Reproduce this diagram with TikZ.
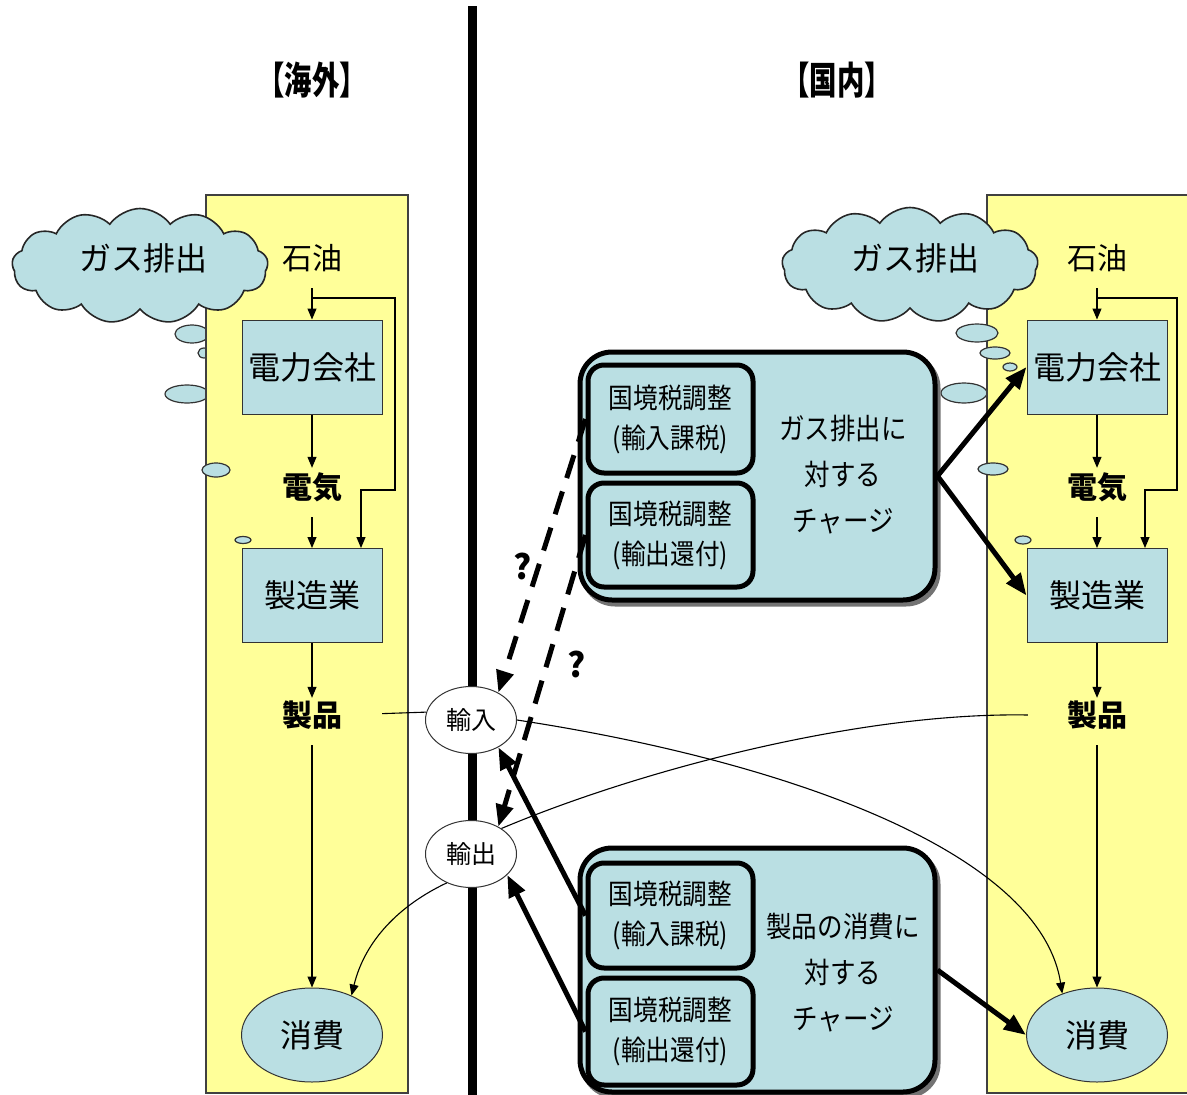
\documentclass[tikz,border=0pt]{standalone}
\usepackage{fontspec}
\setmainfont{Noto Sans CJK JP}
\newfontfamily\jp{Noto Sans CJK JP}
\newfontfamily\jpn[FakeStretch=0.88]{Noto Sans CJK JP}
\newfontfamily\jpt[FakeStretch=0.72]{Noto Sans CJK JP}
\usetikzlibrary{arrows.meta,shapes.geometric,shapes.symbols,calc}
\definecolor{pale}{RGB}{186,223,227}
\definecolor{cream}{RGB}{255,255,153}
\begin{document}
\begin{tikzpicture}[x=1pt,y=-1pt,
  lbl/.style={font=\jp\fontsize{30}{36}\selectfont, inner sep=0pt, minimum height=60pt},
  lblb/.style={lbl, font=\jp\bfseries\fontsize{30}{36}\selectfont},
  flowbox/.style={draw=black!80, line width=1pt, fill=pale, minimum width=140pt,
    minimum height=94pt, inner sep=0pt, font=\jp\fontsize{32}{38}\selectfont},
  consnode/.style={ellipse, draw=black!80, line width=1pt, fill=pale, minimum width=141pt,
    minimum height=94pt, inner sep=0pt, font=\jp\fontsize{32}{38}\selectfont},
  portnode/.style={ellipse, draw=black!80, line width=1pt, fill=white, minimum width=91pt,
    minimum height=67pt, inner sep=0pt, font=\jp\fontsize{25}{30}\selectfont},
  outerbox/.style={draw, line width=5pt, fill=pale, rounded corners=32pt,
    minimum width=355pt, inner sep=0pt},
  innerbox/.style={draw, line width=5pt, fill=pale, rounded corners=16pt,
    minimum width=165pt, inner sep=0pt, align=center,
    font=\jpn\fontsize{28}{40}\selectfont},
  chargetext/.style={align=center, inner sep=0pt, font=\jpn\fontsize{29}{46}\selectfont},
  thinarr/.style={line width=1.1pt, -{Triangle[length=11pt,width=9pt]}},
  thinline/.style={line width=1.1pt},
  bigarr/.style={line width=5pt, -{Triangle[length=22pt,width=17pt]}},
  bubble/.style={draw=black!80, line width=1.2pt, fill=pale},
  puff/.style={cloud, cloud puffs=13, cloud puff arc=110, cloud ignores aspect,
    draw=black!85, line width=1.6pt, fill=pale, minimum width=256pt,
    minimum height=115pt, inner sep=0pt},
  cloudtext/.style={font=\jp\fontsize{32}{38}\selectfont, inner sep=0pt},
  qmark/.style={font=\jp\bfseries\fontsize{34}{40}\selectfont, inner sep=0pt}
]
\useasboundingbox (0,0) rectangle (1187,1095);

% thought bubbles partly hidden by the columns
\draw[bubble] (192,334) ellipse [x radius=17pt, y radius=9pt];
\draw[bubble] (204,353) ellipse [x radius=6pt, y radius=5pt];
\draw[bubble] (187,394) ellipse [x radius=22pt, y radius=9pt];
\draw[bubble] (964,393) ellipse [x radius=23pt, y radius=10pt];

% the two columns
\draw[fill=cream, draw=black!75, line width=1.2pt] (206,195) rectangle (408,1093);
\draw[fill=cream, draw=black!75, line width=1.2pt] (987,195) rectangle (1200,1093);

% border line
\fill[black] (468,6) rectangle (477,1095);

% titles
\node[font=\jpt\bfseries\fontsize{38}{44}\selectfont, inner sep=0pt] (titleL) at (312,80) {【海外】};
\node[font=\jpt\bfseries\fontsize{38}{44}\selectfont, inner sep=0pt] (titleR) at (837,80) {【国内】};

% clouds
\node[puff] (cloudL) at (140,266) {};
\node[cloudtext] (gasL) at (143,258) {ガス排出};
\node[puff] (cloudR) at (910,265) {};
\node[cloudtext] (gasR) at (915,258) {ガス排出};

% remaining bubbles
\draw[bubble] (216,470) ellipse [x radius=14pt, y radius=7pt];
\draw[bubble] (243,540) ellipse [x radius=8pt, y radius=3.5pt];
\draw[bubble] (977,333) ellipse [x radius=21pt, y radius=9pt];
\draw[bubble] (995,353) ellipse [x radius=15pt, y radius=6pt];
\draw[bubble] (1010,367) ellipse [x radius=7pt, y radius=4pt];
\draw[bubble] (993,469) ellipse [x radius=15pt, y radius=6pt];
\draw[bubble] (1023,540) ellipse [x radius=8pt, y radius=4pt];

% overseas column
\node[lbl]  (oilL)  at (312,258) {石油};
\node[flowbox] (pwrL) at (312,367) {電力会社};
\node[lblb] (elecL) at (312,487) {電気};
\node[flowbox] (mfgL) at (312,595.5) {製造業};
\node[lblb] (prodL) at (312,715) {製品};
\node[consnode] (consL) at (312,1035) {消費};
\coordinate (brL) at (312,298);

% domestic column
\node[lbl]  (oilR)  at (1097,258) {石油};
\node[flowbox] (pwrR) at (1097,367) {電力会社};
\node[lblb] (elecR) at (1097,487) {電気};
\node[flowbox] (mfgR) at (1097,595.5) {製造業};
\node[lblb] (prodR) at (1097,715) {製品};
\node[consnode] (consR) at (1097,1035) {消費};
\coordinate (brR) at (1097,298);

% column flows
\foreach \s in {L,R}{
  \draw[thinarr] (oil\s) -- (pwr\s);
  \draw[thinarr, shorten >=-11pt] (pwr\s) -- (elec\s);
  \draw[thinarr] (elec\s) -- (mfg\s);
  \draw[thinarr, shorten >=-13pt] (mfg\s) -- (prod\s);
  \draw[thinarr] (prod\s) -- (cons\s);
}
\draw[thinarr] (brL) -| ++(83,192) -| ([xshift=49pt]mfgL.north);
\draw[thinarr] (brR) -| ++(80,192) -| ([xshift=48pt]mfgR.north);

% trade nodes
\node[portnode] (imp) at (471,720) {輸入};
\node[portnode] (exp) at (471,854) {輸出};

% trade flows
\draw[thinline, shorten <=40pt] (prodL.east) -- (imp.170);
\draw[thinarr] (imp.east) .. controls (780,760) and (1040,850) .. (consR.130);
\draw[thinline] ([xshift=-39pt]prodR.west) .. controls (860,712) and (640,770) .. (exp.40);
\draw[thinarr] (exp.-130) .. controls (400,905) and (365,940) .. (consL.45);

% charge on emissions
\node[outerbox, minimum height=248pt, fill=black!55, draw=black!55] (shA) at (760.5,480) {};
\node[outerbox, minimum height=248pt] (grpA) at (757.5,476) {};
\node[innerbox, minimum height=108pt] (a1) at (670.5,419) {国境税調整\\(輸入課税)};
\node[innerbox, minimum height=104pt] (a2) at (670.5,535) {国境税調整\\(輸出還付)};
\node[chargetext] (ta) at (843,475) {ガス排出に\\対する\\チャージ};

% charge on consumption
\node[outerbox, minimum height=244pt, fill=black!55, draw=black!55] (shB) at (760.5,974) {};
\node[outerbox, minimum height=244pt] (grpB) at (757.5,970) {};
\node[innerbox, minimum height=105pt] (b1) at (670.5,915.5) {国境税調整\\(輸入課税)};
\node[innerbox, minimum height=107pt] (b2) at (670.5,1031.5) {国境税調整\\(輸出還付)};
\node[chargetext] (tb) at (843,973) {製品の消費に\\対する\\チャージ};

% charges applied
\draw[bigarr] (grpA.east) -- (pwrR.west);
\draw[bigarr] (grpA.east) -- (mfgR.west);
\draw[bigarr] (grpB.east) -- (consR.west);
\draw[bigarr] (b1.west) -- (imp.-45);
\draw[bigarr] (b2.west) -- (exp.-30);
\draw[bigarr, dash pattern=on 24pt off 14pt] (a1.west) -- (imp.45);
\draw[bigarr, dash pattern=on 24pt off 14pt] (a2.west) -- (exp.45);
\node[qmark] (q1) at (523,566) {?};
\node[qmark] (q2) at (577,664) {?};
\end{tikzpicture}
\end{document}
